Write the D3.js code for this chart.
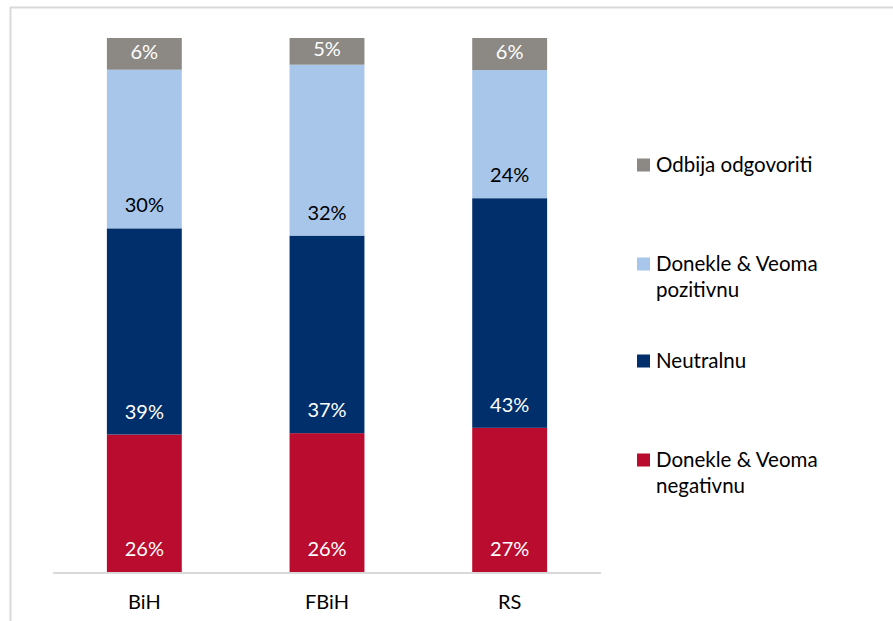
<!DOCTYPE html>
<html>
<head>
<meta charset="utf-8">
<script src="https://cdn.jsdelivr.net/npm/d3@7"></script>
<style>
  body { margin: 0; background: #fff; }
  svg { font-family: "Lato", "Open Sans", sans-serif; }
</style>
</head>
<body>
<div id="chart"></div>
<script>
// categories and series (percent)
var categories = ["BiH", "FBiH", "RS"];
var negativnu = [26, 26, 27];
var neutralnu = [39, 37, 43];
var pozitivnu = [30, 32, 24];
var odbija = [6, 5, 6];

var seriesNames = ["Donekle & Veoma negativnu", "Neutralnu", "Donekle & Veoma pozitivnu", "Odbija odgovoriti"];
var seriesColors = ["#ba0c2f", "#002f6c", "#a7c6ea", "#8c8985"];
var labelColors = ["#fff", "#fff", "#000", "#fff"];
var legendLines = [["Donekle & Veoma", "negativnu"], ["Neutralnu"], ["Donekle & Veoma", "pozitivnu"], ["Odbija odgovoriti"]];

var W = 893, H = 621;
var margin = {top: 38, left: 53, right: 292, bottom: 49};
var width = W - margin.left - margin.right,
    height = H - margin.top - margin.bottom;

var svg = d3.select("#chart").append("svg")
  .attr("width", W)
  .attr("height", H);

// frame
svg.append("path")
  .attr("d", "M10.5," + H + " L10.5,7.5 L" + W + ",7.5")
  .attr("fill", "none")
  .attr("stroke", "#d9d9d9")
  .attr("stroke-width", 2);

var plot = svg.append("g")
  .attr("transform", "translate(" + margin.left + "," + margin.top + ")");

// build rows, normalised to 100% like the original stacked chart
var rows = categories.map(function(c, i) {
  var vals = [negativnu[i], neutralnu[i], pozitivnu[i], odbija[i]];
  var total = d3.sum(vals);
  var row = {cat: c, total: total};
  seriesNames.forEach(function(s, j) { row[s] = vals[j] / total; row["raw" + j] = vals[j]; });
  return row;
});

var stack = d3.stack().keys(seriesNames)(rows);

var x = d3.scaleBand()
  .domain(categories)
  .range([0, width])
  .paddingInner(0.59)
  .paddingOuter(0.295);

var y = d3.scaleLinear()
  .domain([0, 1])
  .range([height, 0]);

var layers = plot.selectAll("g.layer")
  .data(stack)
  .enter().append("g")
  .attr("class", "layer")
  .attr("fill", function(d, i) { return seriesColors[i]; });

layers.selectAll("rect")
  .data(function(d) { return d; })
  .enter().append("rect")
  .attr("x", function(d) { return x(d.data.cat); })
  .attr("y", function(d) { return y(d[1]); })
  .attr("width", x.bandwidth())
  .attr("height", function(d) { return y(d[0]) - y(d[1]); });

// labels near the base of each segment
layers.each(function(layer, i) {
  d3.select(this).selectAll("text")
    .data(layer)
    .enter().append("text")
    .attr("x", function(d) { return x(d.data.cat) + x.bandwidth() / 2; })
    .attr("y", function(d) {
      var h = y(d[0]) - y(d[1]);
      return y(d[0]) - Math.min(23, h / 2 + 2);
    })
    .attr("dy", "0.35em")
    .attr("text-anchor", "middle")
    .attr("fill", labelColors[i])
    .style("font-size", "20px")
    .text(function(d) { return d.data["raw" + i] + "%"; });
});

// x axis
plot.append("line")
  .attr("x1", 0).attr("x2", width)
  .attr("y1", height + 1).attr("y2", height + 1)
  .attr("stroke", "#d9d9d9")
  .attr("stroke-width", 2);

plot.append("g")
  .attr("transform", "translate(0," + height + ")")
  .call(d3.axisBottom(x).tickSize(0).tickPadding(23))
  .call(function(g) { g.select(".domain").remove(); })
  .selectAll("text")
  .attr("fill", "#000")
  .style("font-family", "Lato, 'Open Sans', sans-serif")
  .style("font-size", "20px");

// legend (top item is last series)
var legendY = [460, 361, 264, 165];
var legend = svg.append("g");
seriesNames.forEach(function(s, i) {
  var g = legend.append("g").attr("transform", "translate(637," + legendY[i] + ")");
  g.append("rect")
    .attr("x", 0).attr("y", -6.5)
    .attr("width", 13).attr("height", 13)
    .attr("fill", seriesColors[i]);
  legendLines[i].forEach(function(line, k) {
    g.append("text")
      .attr("x", 19)
      .attr("y", k * 26)
      .attr("dy", "0.35em")
      .attr("fill", "#000")
      .style("font-size", "20.5px")
      .text(line);
  });
});
</script>
</body>
</html>
